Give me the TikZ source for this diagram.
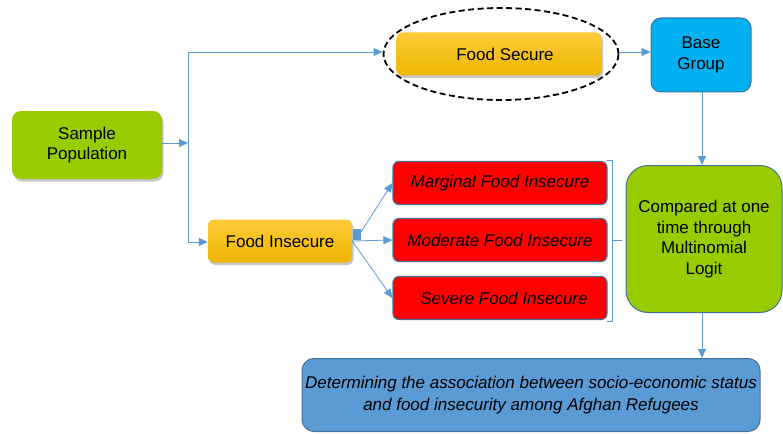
\documentclass[tikz,border=0pt]{standalone}
\usepackage{fontspec}
\setmainfont{Liberation Sans}
\usepackage{tikz}
\usetikzlibrary{shapes.geometric}
\usetikzlibrary{shadows}
\usetikzlibrary{arrows.meta}

\definecolor{leaf}{HTML}{99CC00}
\definecolor{goldtop}{HTML}{FFCB3A}
\definecolor{goldbot}{HTML}{EDB600}
\definecolor{sky}{HTML}{00B0F0}
\definecolor{steel}{HTML}{5B9BD5}
\definecolor{edge}{HTML}{41719C}
\definecolor{link}{HTML}{5B9BD5}

\tikzset{
  box/.style={rectangle, rounded corners=6pt, align=center, inner sep=1pt, font=\fontsize{17}{20.5}\selectfont},
  goldbox/.style={box, top color=goldtop, bottom color=goldbot, drop shadow={shadow xshift=1.5pt, shadow yshift=-2.5pt, opacity=0.45}},
  redbox/.style={box, fill=red, draw=edge, line width=1.2pt, minimum width=214pt, minimum height=43pt, font=\fontsize{17}{20.5}\selectfont\itshape},
  flow/.style={draw=link, line width=0.8pt, -{Triangle[length=9pt, width=8pt]}},
  wire/.style={draw=link, line width=0.8pt}
}

\begin{document}
\begin{tikzpicture}[x=1pt, y=-1pt]
  \useasboundingbox (0,0) rectangle (783,433);

  % Start
  \node[box, fill=leaf, minimum width=150pt, minimum height=68pt, rounded corners=9pt,
        drop shadow={shadow xshift=1.5pt, shadow yshift=-2.5pt, opacity=0.45}] (sample) at (87,145) {Sample\\Population};

  % Split into two groups
  \coordinate (split) at (188,143);
  \coordinate (up) at (188,52);
  \coordinate (down) at (188,242);
  \draw[flow] (sample.east |- split) -- (split);
  \draw[wire] (up) -- (down);

  % Food secure branch
  \node[ellipse, draw, line width=1.8pt, dash pattern=on 6pt off 3.5pt, minimum width=235pt, minimum height=92pt] (ring) at (501,54) {};
  \node[goldbox, minimum width=205pt, minimum height=43pt] (secure) at (499,54) {\hspace{12pt}Food Secure};
  \draw[flow] (up) -- (up -| ring.west);
  \node[box, fill=sky, draw=edge, line width=1pt, minimum width=100pt, minimum height=74pt, rounded corners=10pt] (base) at (701,55) {Base\\Group};
  \draw[flow] (ring.east |- up) -- (base.west |- up);

  % Food insecure branch
  \node[goldbox, minimum width=144pt, minimum height=43pt] (insecure) at (280,241) {Food Insecure};
  \draw[flow] (down) -- (insecure.west |- down);
  \node[redbox] (marginal) at (500,183) {Marginal Food Insecure};
  \node[redbox] (moderate) at (500,240) {Moderate Food Insecure};
  \node[redbox] (severe) at (500,298) {\hspace{8pt}Severe Food Insecure};
  \fill[link] (353,229) rectangle (361,240);
  \draw[flow] (361,232) -- (marginal.west);
  \draw[flow] (insecure.east) -- (moderate.west);
  \draw[flow] (insecure.east) -- (severe.west);

  % Bracket
  \coordinate (tip) at (622,240);
  \draw[wire, line width=0.6pt] (607,160) -- (612,160) -- (612,321) -- (607,321);
  \draw[wire, line width=0.6pt] (612,240) -- (tip);

  % Comparison
  \node[box, fill=leaf, draw=edge, line width=1pt, minimum width=156pt, minimum height=147pt, rounded corners=22pt] (compared) at (704,239) {Compared at one\\time through\\Multinomial\\Logit};
  \draw[flow] (base.south -| 702,0) -- (compared.north -| 702,0);

  % Outcome
  \node[box, fill=steel, draw=edge, line width=1pt, minimum width=458pt, minimum height=73pt, rounded corners=12pt, font=\fontsize{17}{22}\selectfont\itshape] (determine) at (531,395) {Determining the association between socio-economic status\\and food insecurity among Afghan Refugees};
  \draw[flow] (compared.south -| 702,0) -- (determine.north -| 702,0);
\end{tikzpicture}
\end{document}
